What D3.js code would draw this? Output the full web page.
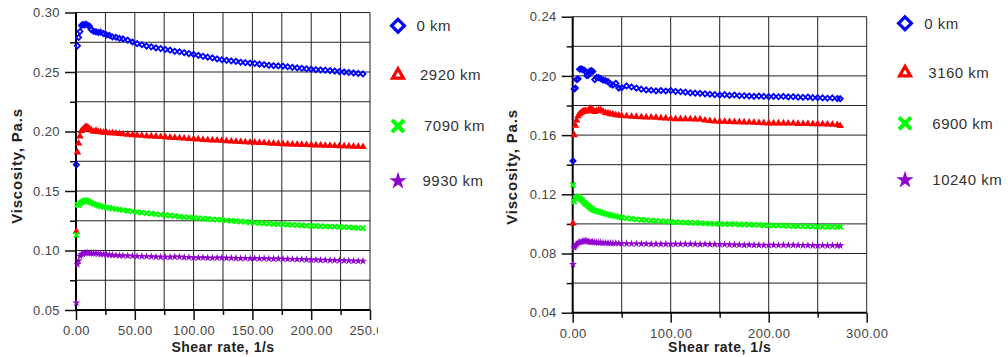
<!DOCTYPE html>
<html><head><meta charset="utf-8">
<script src="https://cdn.jsdelivr.net/npm/d3@7"></script>
<style>body{margin:0;background:#fff}svg{display:block}text{font-family:"Liberation Sans",Arial,sans-serif}</style>
</head><body><svg id="c" width="1008" height="357"></svg>
<script>
// ---------- Left chart data ----------
const shearL = [0.3,1.2,2.2,3.4,4.6,5.8,7,8.5,10,11.5,13,15,17,19,21,23.5,26,28.5,31,34,37,40,44,48,52,56,60,64,68,72,76,80,84,88,92,96,100,104,108,112,116,120,124,128,132,136,140,144,148,152,156,160,164,168,172,176,180,184,188,192,196,200,204,208,212,216,220,224,228,232,236,240,244];
const blueL = [0.172,0.272,0.279,0.284,0.289,0.2900,0.2895,0.2902,0.2893,0.2885,0.2855,0.2842,0.2838,0.2832,0.2835,0.2822,0.2812,0.2808,0.2795,0.2792,0.2782,0.2778,
 0.2768,0.2752,0.2738,0.2729,0.2718,0.2712,0.2703,0.2697,0.2689,0.2683,0.2674,0.2670,0.2662,0.2655,0.2648,0.2640,0.2632,0.2625,0.2618,0.2610,
 0.2603,0.2598,0.2593,0.2590,0.2582,0.2578,0.2575,0.2572,0.2566,0.2562,0.2556,0.2553,0.2551,0.2549,0.2544,0.2539,0.2535,0.2531,0.2527,0.2523,
 0.2520,0.2518,0.2515,0.2512,0.2508,0.2504,0.2500,0.2496,0.2492,0.2488,0.2484];
const redL = [0.116,0.1826,0.190,0.196,0.2005,0.2014,0.2030,0.2040,0.2035,0.2022,0.2010,0.2000,0.2008,0.1998,0.1995,0.1992,0.1990,0.1986,0.1988,0.1984,0.1980,0.1978,
 0.1975,0.1971,0.1968,0.1966,0.1962,0.1960,0.1958,0.1955,0.1953,0.1950,0.1948,0.1945,0.1942,0.1939,0.1937,0.1935,0.1931,0.1928,0.1927,0.1925,
 0.1923,0.1920,0.1917,0.1915,0.1913,0.1911,0.1909,0.1908,0.1906,0.1904,0.1901,0.1899,0.1897,0.1895,0.1893,0.1892,0.1890,0.1889,0.1888,0.1887,
 0.1885,0.1884,0.1882,0.1881,0.1879,0.1878,0.1877,0.1875,0.1874,0.1873,0.1871];
const greenL = [0.113,0.1385,0.1380,0.1395,0.1405,0.1410,0.1418,0.1422,0.1418,0.1408,0.1400,0.1392,0.1385,0.1378,0.1372,0.1366,0.1362,0.1357,0.1353,0.1348,0.1343,0.1339,
 0.1334,0.1329,0.1323,0.1318,0.1314,0.1310,0.1306,0.1302,0.1298,0.1294,0.1290,0.1285,0.1281,0.1278,0.1274,0.1271,0.1268,0.1265,0.1262,0.1259,
 0.1257,0.1253,0.1250,0.1247,0.1244,0.1241,0.1237,0.1234,0.1231,0.1229,0.1226,0.1224,0.1222,0.1220,0.1217,0.1215,0.1213,0.1211,0.1209,0.1207,
 0.1206,0.1204,0.1203,0.1201,0.1200,0.1198,0.1196,0.1194,0.1192,0.1190,0.1187];
const purpleL = [0.056,0.0884,0.0915,0.0954,0.0965,0.0972,0.0978,0.0982,0.0980,0.0978,0.0976,0.0975,0.0977,0.0973,0.0970,0.0968,0.0966,0.0964,0.0962,0.0960,0.0958,0.0957,
 0.0955,0.0954,0.0952,0.0951,0.0950,0.0949,0.0946,0.0945,0.0944,0.0945,0.0947,0.0946,0.0943,0.0942,0.0940,0.0939,0.0940,0.0938,0.0937,0.0939,
 0.0938,0.0936,0.0937,0.0935,0.0934,0.0935,0.0933,0.0934,0.0932,0.0933,0.0931,0.0930,0.0931,0.0929,0.0928,0.0927,0.0926,0.0925,0.0924,0.0922,
 0.0921,0.0920,0.0919,0.0918,0.0917,0.0916,0.0915,0.0914,0.0913,0.0912,0.0911];
const legendL = ["0 km","2920 km","7090 km","9930 km"];
const xTicksL = [0,50,100,150,200,250];
const xMinorL = [25,75,125,175,225];
const yTicksL = [0.05,0.10,0.15,0.20,0.25,0.30];
const yMinorL = [0.075,0.125,0.175,0.225,0.275];

// ---------- Right chart data ----------
const shearR = [0.3,1.5,2.7,4,5.5,7,8.5,10,11.5,13,14.5,16,17.5,19,20.5,22.5,24.5,26.5,28.5,31,33.5,36,38.5,41,44,47,50,55,60,65,70,75,80,85,90,95,100,105,110,115,120,125,130,135,140,145,150,155,160,165,170,175,180,185,190,195,200,205,210,215,220,225,230,235,240,245,250,255,260,265,270,273];
const blueR = [0.1425,0.1912,0.1918,0.1975,0.1980,0.2045,0.2048,0.2043,0.2040,0.2030,0.2002,0.2005,0.2033,0.2035,0.2030,0.1975,0.1990,0.1988,0.1982,0.1972,0.1968,0.1962,0.1945,0.1938,0.1950,0.1918,0.1920,
 0.1932,0.1925,0.1918,0.1910,0.1905,0.1903,0.1899,0.1901,0.1898,0.1901,0.1895,0.1893,0.1890,0.1886,0.1883,0.1882,0.1879,0.1876,0.1873,0.1871,
 0.1873,0.1868,0.1871,0.1866,0.1866,0.1864,0.1862,0.1864,0.1861,0.1860,0.1861,0.1859,0.1861,0.1858,0.1859,0.1856,0.1855,0.1857,0.1853,0.1853,
 0.1851,0.1849,0.1851,0.1847,0.1846];
const redR = [0.1004,0.1600,0.1665,0.1700,0.1728,0.1742,0.1750,0.1758,0.1762,0.1763,0.1761,0.1765,0.1780,0.1778,0.1770,0.1758,0.1765,0.1768,0.1770,0.1760,0.1750,0.1748,0.1743,0.1740,0.1736,0.1733,0.1730,
 0.1728,0.1725,0.1724,0.1722,0.1721,0.1720,0.1718,0.1716,0.1714,0.1711,0.1709,0.1709,0.1708,0.1708,0.1707,0.1707,0.1700,0.1696,0.1693,0.1692,
 0.1691,0.1690,0.1689,0.1688,0.1687,0.1686,0.1685,0.1683,0.1682,0.1680,0.1680,0.1680,0.1680,0.1679,0.1679,0.1677,0.1676,0.1676,0.1675,0.1675,
 0.1674,0.1673,0.1671,0.1669,0.1662];
const greenR = [0.1263,0.1150,0.1173,0.1178,0.1184,0.1175,0.1165,0.1158,0.1145,0.1136,0.1128,0.1120,0.1112,0.1104,0.1096,0.1090,0.1086,0.1082,0.1078,0.1073,0.1068,0.1064,0.1060,0.1055,0.1051,0.1047,0.1043,
 0.1038,0.1035,0.1031,0.1028,0.1025,0.1022,0.1020,0.1018,0.1016,0.1014,0.1012,0.1010,0.1009,0.1008,0.1007,0.1005,0.1004,0.1002,0.1001,0.1000,
 0.0999,0.0999,0.0998,0.0997,0.0996,0.0995,0.0994,0.0993,0.0991,0.0990,0.0989,0.0988,0.0988,0.0987,0.0986,0.0985,0.0984,0.0983,0.0982,0.0982,
 0.0981,0.0981,0.0981,0.0980,0.0980];
const purpleR = [0.0727,0.0840,0.0850,0.0862,0.0872,0.0876,0.0878,0.0882,0.0885,0.0886,0.0884,0.0880,0.0878,0.0877,0.0879,0.0876,0.0875,0.0874,0.0874,0.0872,0.0871,0.0871,0.0870,0.0869,0.0869,0.0868,0.0868,
 0.0867,0.0866,0.0866,0.0865,0.0865,0.0864,0.0864,0.0864,0.0863,0.0864,0.0864,0.0863,0.0864,0.0863,0.0863,0.0862,0.0863,0.0862,0.0862,0.0862,
 0.0861,0.0860,0.0859,0.0858,0.0857,0.0858,0.0857,0.0857,0.0856,0.0857,0.0857,0.0856,0.0857,0.0856,0.0857,0.0856,0.0855,0.0855,0.0854,0.0853,
 0.0854,0.0853,0.0854,0.0853,0.0853];
const legendR = ["0 km","3160 km","6900 km","10240 km"];
const xTicksR = [0,100,200,300];
const xMinorR = [50,150,250];
const yTicksR = [0.04,0.08,0.12,0.16,0.20,0.24];
const yMinorR = [0.06,0.10,0.14,0.18,0.22];

const colors = ["#0000ff","#ff0000","#00ff00","#9000d0"];

const svg = d3.select("#c");

// marker styles
const markers = [
  {type:d3.symbolDiamond2, ps:17, ls:105, fill:false, pfill:false, pw:1.8, lw:3.2},
  {type:d3.symbolTriangle2, ps:18, ls:85, fill:false, pfill:true, pw:1.5, lw:3.2},
  {type:d3.symbolTimes, ps:17, ls:95, fill:false, pfill:false, pw:2.1, lw:4},
  {type:d3.symbolStar, ps:20, ls:95, fill:true, pfill:true, pw:0, lw:0}
];

function drawChart(cfg) {
  const g = svg.append("g");
  const x = d3.scaleLinear().domain(cfg.xDomain).range([cfg.left, cfg.right]);
  const y = d3.scaleLinear().domain(cfg.yDomain).range([cfg.bottom, cfg.top]);

  // grid lines (minor + major interior + borders)
  const gx = cfg.xMinor.concat(cfg.xTicks.slice(1));
  const gy = cfg.yMinor.concat(cfg.yTicks.slice(1));
  g.append("g").selectAll("line").data(gx).join("line")
    .attr("x1", d => x(d)).attr("x2", d => x(d))
    .attr("y1", cfg.top).attr("y2", cfg.bottom)
    .attr("stroke", "#222").attr("stroke-width", 1);
  g.append("g").selectAll("line").data(gy).join("line")
    .attr("x1", cfg.left).attr("x2", cfg.right)
    .attr("y1", d => y(d)).attr("y2", d => y(d))
    .attr("stroke", "#222").attr("stroke-width", 1);

  // axes
  const ay = d3.axisLeft(y).tickValues(cfg.yTicks).tickSize(11).tickPadding(5).tickFormat(d3.format(".2f"));
  const ayMinor = d3.axisLeft(y).tickValues(cfg.yMinor).tickSize(6).tickFormat("");
  const ax = d3.axisBottom(x).tickValues(cfg.xTicks).tickSize(10).tickPadding(6).tickFormat(d3.format(".2f"));
  const axMinor = d3.axisBottom(x).tickValues(cfg.xMinor).tickSize(5).tickFormat("");

  g.append("g").attr("transform", `translate(${cfg.left},0)`).call(ay);
  g.append("g").attr("transform", `translate(${cfg.left},0)`).call(ayMinor);
  const gX = g.append("g").attr("transform", `translate(0,${cfg.bottom})`).call(ax);
  g.append("g").attr("transform", `translate(0,${cfg.bottom})`).call(axMinor);
  g.selectAll(".domain").remove();
  g.selectAll(".tick line").attr("stroke", "#111").attr("stroke-width", 1.5);
  g.selectAll(".tick text").attr("font-size", 13).attr("fill", "#444").attr("letter-spacing", 0.4)
    .attr("font-family", '"Liberation Sans",Arial,sans-serif');
  if (cfg.clipX) {
    const id = "clip" + Math.round(cfg.left);
    svg.append("clipPath").attr("id", id).append("rect")
      .attr("x", 0).attr("y", 0).attr("width", cfg.clipX).attr("height", 357);
    gX.attr("clip-path", `url(#${id})`);
  }

  // axis lines
  g.append("line").attr("x1", cfg.left).attr("x2", cfg.left).attr("y1", cfg.top).attr("y2", cfg.bottom + 0.5)
    .attr("stroke", "#000").attr("stroke-width", 2);
  g.append("line").attr("x1", cfg.left).attr("x2", cfg.right).attr("y1", cfg.bottom).attr("y2", cfg.bottom)
    .attr("stroke", "#000").attr("stroke-width", 2);

  // axis titles
  g.append("text").attr("x", (cfg.left + cfg.right) / 2).attr("y", 352)
    .attr("text-anchor", "middle").attr("font-weight", "bold").attr("font-size", 14)
    .attr("letter-spacing", 0.5).attr("fill", "#222")
    .text("Shear rate, 1/s");
  g.append("text").attr("transform", `translate(${cfg.yTitleX},${cfg.yTitleY}) rotate(-90)`)
    .attr("text-anchor", "middle").attr("font-weight", "bold").attr("font-size", 15)
    .attr("letter-spacing", 0.8).attr("fill", "#222")
    .text("Viscosity, Pa.s");

  // data
  cfg.series.forEach((vals, i) => {
    const m = markers[i];
    const sym = d3.symbol().type(m.type).size(m.ps);
    const pts = cfg.shear.map((s, k) => [s, vals[k]]).filter(p => p[1] !== undefined);
    g.append("g").selectAll("path").data(pts).join("path")
      .attr("transform", d => `translate(${x(d[0])},${y(d[1])})`)
      .attr("d", sym)
      .attr("fill", m.pfill ? colors[i] : "none")
      .attr("stroke", m.pw ? colors[i] : "none")
      .attr("stroke-width", m.pw);
  });

  // legend
  cfg.legend.forEach((lab, i) => {
    const m = markers[i];
    const lg = g.append("g").attr("transform", `translate(${cfg.legX},${cfg.legY[i]})`);
    lg.append("path").attr("d", d3.symbol().type(m.type).size(m.ls)())
      .attr("fill", m.fill ? colors[i] : "none")
      .attr("stroke", m.fill ? "none" : colors[i])
      .attr("stroke-width", m.lw);
    lg.append("text").attr("x", cfg.legTextX[i] - cfg.legX).attr("y", 0).attr("dy", "0.36em")
      .attr("font-size", 15).attr("letter-spacing", 0.5).attr("fill", "#333").text(lab);
  });
}

drawChart({
  left: 76, right: 370, top: 12.5, bottom: 310,
  xDomain: [0, 250], yDomain: [0.05, 0.30],
  xTicks: xTicksL, xMinor: xMinorL, yTicks: yTicksL, yMinor: yMinorL,
  shear: shearL, series: [blueL, redL, greenL, purpleL],
  legend: legendL, legX: 398, legY: [25.7, 75, 126, 181], legTextX: [416.5, 420, 424, 422.5],
  yTitleX: 22, yTitleY: 166, clipX: 378
});
drawChart({
  left: 572.7, right: 866.7, top: 16.7, bottom: 312.7,
  xDomain: [0, 300], yDomain: [0.04, 0.24],
  xTicks: xTicksR, xMinor: xMinorR, yTicks: yTicksR, yMinor: yMinorR,
  shear: shearR, series: [blueR, redR, greenR, purpleR],
  legend: legendR, legX: 905, legY: [23.3, 72.7, 123.3, 180], legTextX: [924.3, 928.3, 932.3, 932.3],
  yTitleX: 517, yTitleY: 167, clipX: null
});
</script></body></html>
